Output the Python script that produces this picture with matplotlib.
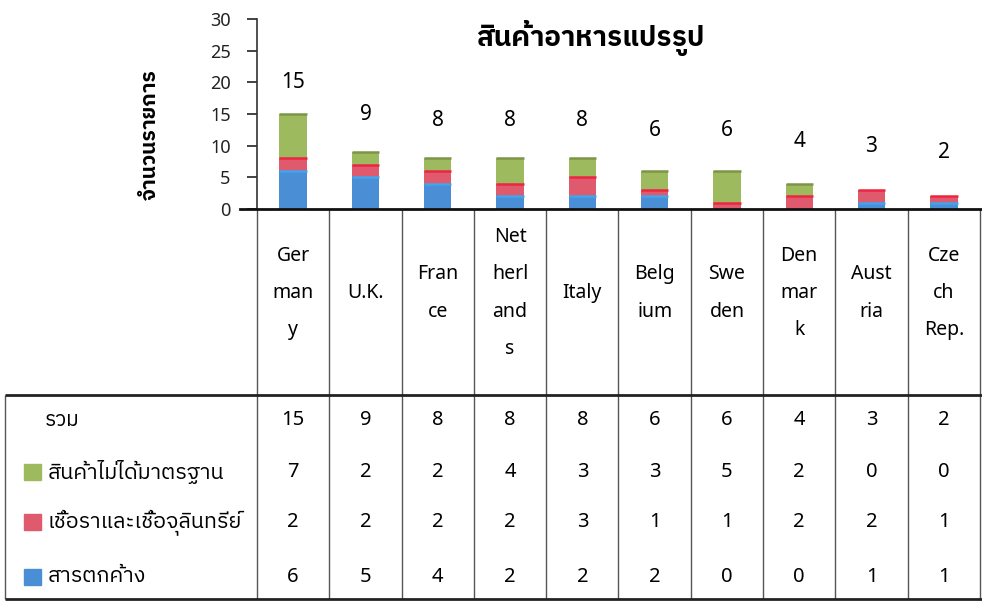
import numpy as np
import matplotlib
matplotlib.use('Agg')
import matplotlib.pyplot as plt
from matplotlib import font_manager
from matplotlib.ft2font import FT2Font
from matplotlib.lines import Line2D
from matplotlib.patches import Rectangle

# data
countries = ['Ger\nman\ny', 'U.K.', 'Fran\nce', 'Net\nherl\nand\ns', 'Italy',
             'Belg\nium', 'Swe\nden', 'Den\nmar\nk', 'Aust\nria', 'Cze\nch\nRep.']
totals = [15, 9, 8, 8, 8, 6, 6, 4, 3, 2]
substandard = [7, 2, 2, 4, 3, 3, 5, 2, 0, 0]
fungi = [2, 2, 2, 2, 3, 1, 1, 2, 2, 1]
residue = [6, 5, 4, 2, 2, 2, 0, 0, 1, 1]

title = 'สินค้าอาหารแปรรูป'
ylabel = 'จำนวนรายการ'
total_label = 'รวม'
series_labels = ['สินค้าไม่ได้มาตรฐาน', 'เชื้อราและเชื้อจุลินทรีย์', 'สารตกค้าง']
yticks = [0, 5, 10, 15, 20, 25, 30]

c_green = '#9dba5e'
c_red = '#df5a6c'
c_blue = '#4a8fd6'


# look for any installed font that has Thai glyphs
def find_thai_font():
    found = []
    for f in font_manager.fontManager.ttflist:
        try:
            if 0x0E2A in FT2Font(f.fname).get_charmap():
                found.append(f.name)
        except Exception:
            pass
    found.sort(key=lambda n: (0 if 'Sans' in n else 1, n))
    return found[0] if found else None


thai = find_thai_font()
families = ['Noto Sans'] + ([thai] if thai else []) + ['DejaVu Sans']
plt.rcParams['font.family'] = families

W, H = 982, 602
fig = plt.figure(figsize=(W / 100, H / 100), dpi=100)

# pixel layout
col0, col1 = 257, 980
colw = (col1 - col0) / 10.0
axis_y = 209
top_y = 19
tab_top = 395
tab_bot = 599

ax = fig.add_axes([col0 / W, 1 - axis_y / H, (col1 - col0) / W, (axis_y - top_y) / H])
x = np.arange(len(totals))
res = np.array(residue)
fun = np.array(fungi)
sub = np.array(substandard)
bw = 0.38
ax.bar(x, res, width=bw, color=c_blue, zorder=2)
ax.bar(x, fun, bottom=res, width=bw, color=c_red, zorder=2)
ax.bar(x, sub, bottom=res + fun, width=bw, color=c_green, zorder=2)

# thin bright edges at top of each piece, like in the scan
for vals, base, col in [(res, 0, '#3fa6ee'), (fun, res, '#ee2443'), (sub, res + fun, '#7d9646')]:
    tops = base + vals
    m = vals > 0
    ax.hlines(tops[m], x[m] - bw / 2, x[m] + bw / 2, colors=col, lw=1.8, zorder=3)

for i, t in enumerate(totals):
    ax.text(i, t + 5 + (15 - t) * 0.15, str(t), ha='center', va='center', fontsize=15)

ax.set_xlim(-0.5, len(totals) - 0.5)
ax.set_ylim(0, 30)
ax.set_yticks(yticks)
ax.set_xticks([])
ax.tick_params(axis='y', labelsize=13, length=7, width=1.2, direction='out', pad=12, colors='#222222')
for s in ['top', 'right', 'bottom']:
    ax.spines[s].set_visible(False)
ax.spines['left'].set_linewidth(1.2)
ax.spines['left'].set_color('#333333')

fig.add_artist(Line2D([240 / W, 1], [1 - axis_y / H] * 2, color='#111111', lw=2))

fig.text(590 / W, 1 - 38 / H, title, ha='center', va='center', fontsize=20, fontweight='bold')
fig.text(150 / W, 1 - 135 / H, ylabel, rotation=90, ha='center', va='center',
         fontsize=15, fontweight='bold')

# category labels and data table, drawn in pixel coords
tab = fig.add_axes([0, 0, 1, 1 - axis_y / H])
tab.set_xlim(0, W)
tab.set_ylim(H, axis_y)
tab.axis('off')

edges = col0 + colw * np.arange(11)
centers = edges[:-1] + colw / 2
tab.vlines(edges, axis_y, tab_top, colors='#555555', lw=1)
tab.vlines(np.append(edges, 5), tab_top, tab_bot, colors='#555555', lw=1)
tab.hlines([tab_top, tab_bot], 5, W, colors='#222222', lw=2)

for cx, name in zip(centers, countries):
    tab.text(cx, 293, name, ha='center', va='center', fontsize=14, linespacing=2.15)

row_y = [420, 472, 522, 577]
rows = [totals, substandard, fungi, residue]
for ry, vals in zip(row_y, rows):
    for cx, v in zip(centers, vals):
        tab.text(cx, ry, str(v), ha='center', va='center', fontsize=14.5)

tab.text(45, row_y[0], total_label, ha='left', va='center', fontsize=15)
for ry, lab, col in zip(row_y[1:], series_labels, [c_green, c_red, c_blue]):
    tab.add_patch(Rectangle((24, ry - 8), 17, 16, color=col))
    tab.text(48, ry, lab, ha='left', va='center', fontsize=15.5)

fig.savefig('out.png', dpi=100)
